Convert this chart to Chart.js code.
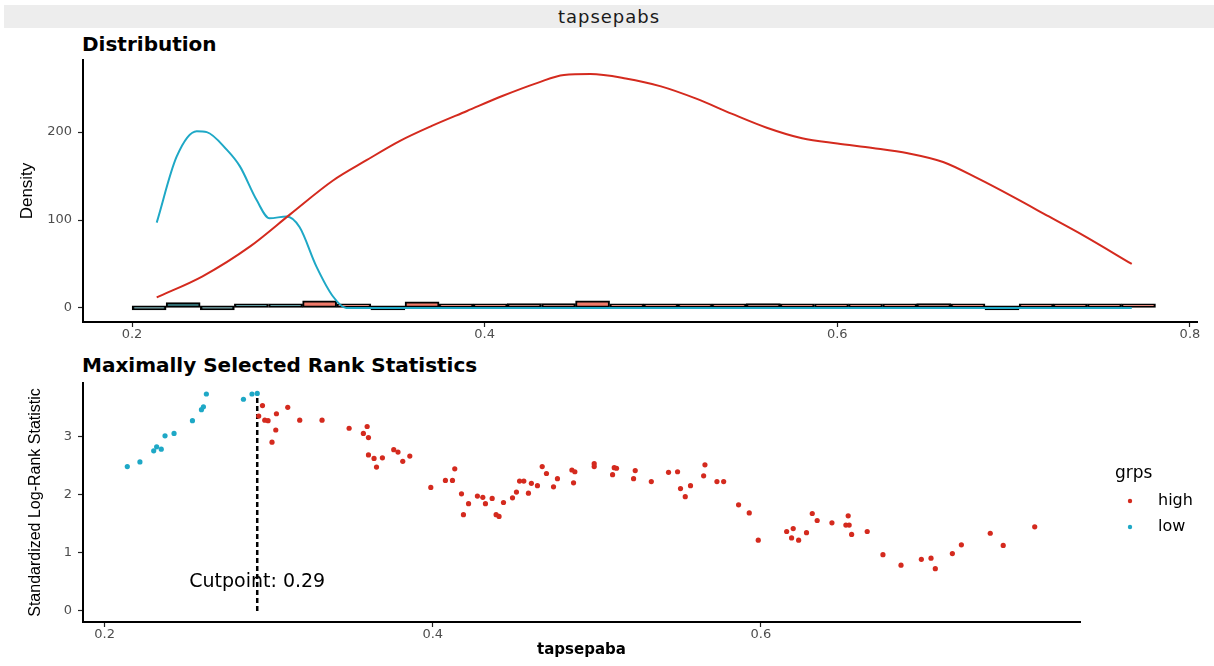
<!DOCTYPE html>
<html>
<head>
<meta charset="utf-8">
<title>tapsepabs</title>
<script src="https://cdn.jsdelivr.net/npm/chart.js@4.4.0/dist/chart.umd.min.js"></script>
<style>
  body { margin:0; background:#fff; width:1214px; height:666px; position:relative; overflow:hidden; font-family:"DejaVu Sans", sans-serif; }
  .strip { position:absolute; left:4px; right:0; top:5px; height:23px; background:#ededed; text-align:center; font-size:18px; line-height:23px; color:#1a1a1a; letter-spacing:1px; }
  .ptitle { position:absolute; left:82px; font-weight:bold; font-size:20px; line-height:23px; color:#000; }
  canvas { position:absolute; left:0; }
</style>
</head>
<body>
<div class="strip">tapsepabs</div>
<div class="ptitle" style="top:33px">Distribution</div>
<div class="ptitle" style="top:354px">Maximally Selected Rank Statistics</div>
<canvas id="distChart" width="1214" height="345" style="top:0"></canvas>
<canvas id="statChart" width="1214" height="321" style="top:345px"></canvas>
<script>
const varName = 'tapsepaba';
const groupTitle = 'grps';

// density of the "high" group
const highDensX = [0.214, 0.24, 0.267, 0.29, 0.314, 0.333, 0.352, 0.37, 0.39, 0.41, 0.43, 0.445, 0.46, 0.48, 0.50, 0.52, 0.54, 0.56, 0.58, 0.60, 0.62, 0.64, 0.66, 0.68, 0.70, 0.72, 0.74, 0.767];
const highDensY = [12, 36, 70, 107, 145, 168, 190, 207, 224, 241, 256, 265, 266, 261, 252, 238, 221, 205, 193, 187, 182, 176, 166, 147, 126, 104, 82, 50];
// density of the "low" group
const lowDensX = [0.214, 0.2253, 0.2367, 0.2424, 0.2537, 0.2612, 0.2706, 0.278, 0.2877, 0.295, 0.3046, 0.314, 0.3215, 0.34, 0.4, 0.5, 0.6, 0.7, 0.767];
const lowDensY = [97, 172, 201, 200, 180, 161, 123, 102, 104, 92, 47, 13, 0, 0, 0, 0, 0, 0, 0];

// histogram along the bottom of the density panel
const binCenters = [0.2097, 0.2290, 0.2484, 0.2677, 0.2871, 0.3064, 0.3258, 0.3451, 0.3645, 0.3838,
                    0.4032, 0.4225, 0.4419, 0.4612, 0.4806, 0.4999, 0.5193, 0.5386, 0.5580, 0.5773,
                    0.5967, 0.6160, 0.6354, 0.6547, 0.6741, 0.6934, 0.7128, 0.7321, 0.7515, 0.7708];
const binHeights = [0, 6, 0, 1, 1, 8, 0.5, 0, 7, 4,
                    0.5, 5, 5, 8, 4, 1, 3, 1, 5, 3,
                    1, 1, 1.5, 5, 1, 0, 2.5, 1, 1, 0.3];

// standardized log-rank statistics
const lowX = [0.2138, 0.2215, 0.2299, 0.2317, 0.2345, 0.2368, 0.2423, 0.2535, 0.2590, 0.2602, 0.2620, 0.2846, 0.2898, 0.2930];
const lowY = [2.49, 2.57, 2.76, 2.83, 2.79, 3.02, 3.06, 3.28, 3.47, 3.52, 3.74, 3.65, 3.74, 3.75];
const highX = [0.2939, 0.2962, 0.2976, 0.2996, 0.3020, 0.3043, 0.3047, 0.3116, 0.3189, 0.3325,
               0.3490, 0.3577, 0.3600, 0.3608, 0.3608, 0.3642, 0.3657, 0.3693, 0.3762, 0.3788,
               0.3817, 0.3860, 0.3988, 0.4077, 0.4120, 0.4134, 0.4175, 0.4187, 0.4218, 0.4272,
               0.4305, 0.4321, 0.4362, 0.4386, 0.4404, 0.4431, 0.4486, 0.4510, 0.4529, 0.4555,
               0.4583, 0.4601, 0.4638, 0.4667, 0.4693, 0.4736, 0.4760, 0.4848, 0.4858, 0.4866,
               0.4984, 0.4984, 0.5096, 0.5106, 0.5120, 0.5224, 0.5234, 0.5332, 0.5437, 0.5492,
               0.5510, 0.5539, 0.5571, 0.5651, 0.5659, 0.5732, 0.5773, 0.5864, 0.5929, 0.5984,
               0.6157, 0.6187, 0.6197, 0.6230, 0.6278, 0.6313, 0.6343, 0.6433, 0.6518, 0.6532,
               0.6538, 0.6553, 0.6648, 0.6744, 0.6854, 0.6978, 0.7037, 0.7063, 0.7167, 0.7222,
               0.7398, 0.7477, 0.7669];
const highY = [3.36, 3.54, 3.29, 3.28, 2.91, 3.12, 3.40, 3.51, 3.29, 3.29,
               3.15, 3.06, 3.18, 2.99, 2.69, 2.63, 2.48, 2.64, 2.78, 2.74,
               2.58, 2.67, 2.13, 2.25, 2.25, 2.45, 2.02, 1.66, 1.85, 1.98,
               1.96, 1.85, 1.94, 1.66, 1.63, 1.87, 1.95, 2.05, 2.24, 2.24,
               2.03, 2.20, 2.16, 2.49, 2.37, 2.14, 2.28, 2.43, 2.21, 2.40,
               2.54, 2.49, 2.35, 2.47, 2.46, 2.28, 2.42, 2.23, 2.39, 2.40,
               2.11, 1.97, 2.16, 2.33, 2.52, 2.23, 2.23, 1.83, 1.69, 1.22,
               1.37, 1.26, 1.42, 1.22, 1.35, 1.68, 1.56, 1.52, 1.48, 1.64,
               1.48, 1.32, 1.37, 0.97, 0.79, 0.89, 0.91, 0.73, 0.99, 1.14,
               1.34, 1.13, 1.45];
const cutpoint = 0.293;
const cutLabelY = 0.5;

const distTicksX = [0.2, 0.4, 0.6, 0.8];
const distTicksY = [0, 100, 200];
const statTicksX = [0.2, 0.4, 0.6];
const statTicksY = [0, 1, 2, 3];

const RED = '#d42a1e';
const CYAN = '#1ea8c6';
const HIST_HIGH = '#f07a6a';
const HIST_LOW = '#3f8f96';

const pts = (xs, ys) => xs.map((x, i) => ({x: x, y: ys[i]}));

function axis(opts) {
    return {
        type: 'linear',
        min: opts.min,
        max: opts.max,
        offset: false,
        grid: { display: true, offset: false, drawOnChartArea: false, drawTicks: true,
                tickLength: 5, tickColor: '#222', tickWidth: 1.2 },
        border: { display: true, color: '#000', width: 2 },
        ticks: { color: '#4d4d4d', font: { family: 'DejaVu Sans', size: 13 },
                 padding: opts.pad, callback: opts.fmt },
        afterBuildTicks: a => { a.ticks = opts.ticks.map(v => ({value: v})); },
        afterFit: opts.fit,
        title: opts.title || { display: false }
    };
}

// ---- Distribution panel ----
new Chart(document.getElementById('distChart').getContext('2d'), {
    type: 'bar',
    data: {
        datasets: [
            { type: 'line', label: 'high', data: pts(highDensX, highDensY), borderColor: RED,
              borderWidth: 2, pointRadius: 0, cubicInterpolationMode: 'monotone', order: 1 },
            { type: 'line', label: 'low', data: pts(lowDensX, lowDensY), borderColor: CYAN,
              borderWidth: 2, pointRadius: 0, cubicInterpolationMode: 'monotone', order: 1 },
            { type: 'bar', label: 'hist', data: pts(binCenters, binHeights),
              backgroundColor: binCenters.map(c => c <= cutpoint ? HIST_LOW : HIST_HIGH),
              borderColor: '#000', borderWidth: 2, borderSkipped: false, minBarLength: 4,
              barPercentage: 1, categoryPercentage: 1, grouped: false, order: 2 }
        ]
    },
    options: {
        responsive: false,
        animation: false,
        layout: { padding: { top: 60, right: 17, left: 0, bottom: 0 } },
        plugins: { legend: { display: false }, tooltip: { enabled: false } },
        scales: {
            x: axis({ min: 0.1722, max: 0.804, ticks: distTicksX, pad: 0,
                      fmt: v => v.toFixed(1), fit: s => { s.height = 23; } }),
            y: axis({ min: -16, max: 282, ticks: distTicksY, pad: 6,
                      fmt: v => String(v), fit: s => { s.width = 83; },
                      title: { display: true, text: 'Density', color: '#000',
                               font: { family: 'Liberation Sans', size: 17 }, padding: { top: 17 } } })
        }
    }
});

// ---- Rank statistics panel ----
const maxStat = Math.max(...lowY, ...highY);

const cutLabel = {
    id: 'cutLabel',
    beforeDatasetsDraw(chart) {
        const {ctx, scales: {x, y}} = chart;
        ctx.save();
        ctx.font = '19px "DejaVu Sans"';
        ctx.fillStyle = '#000';
        ctx.textAlign = 'center';
        ctx.textBaseline = 'middle';
        ctx.fillText('Cutpoint: ' + cutpoint.toFixed(2), x.getPixelForValue(cutpoint), y.getPixelForValue(cutLabelY));
        ctx.restore();
    }
};

const grpsLegend = {
    id: 'grpsLegend',
    afterDraw(chart) {
        const {ctx, chartArea} = chart;
        const left = chartArea.right;
        const mid = (chartArea.top + chartArea.bottom) / 2;
        ctx.save();
        ctx.fillStyle = '#000';
        ctx.textAlign = 'left';
        ctx.textBaseline = 'middle';
        ctx.font = '17px "DejaVu Sans"';
        ctx.fillText(groupTitle, left + 35, mid - 29);
        ctx.font = '16px "DejaVu Sans"';
        chart.data.datasets.filter(d => d.inLegend).forEach((d, i) => {
            const yy = mid - 1.5 + i * 26;
            ctx.fillStyle = d.backgroundColor;
            ctx.beginPath();
            ctx.arc(left + 50, yy, 2.2, 0, Math.PI * 2);
            ctx.fill();
            ctx.fillStyle = '#000';
            ctx.fillText(d.label, left + 78, yy);
        });
        ctx.restore();
    }
};

new Chart(document.getElementById('statChart').getContext('2d'), {
    type: 'scatter',
    data: {
        datasets: [
            { label: 'high', inLegend: true, data: pts(highX, highY), backgroundColor: RED,
              pointRadius: 2.6, pointBorderWidth: 0 },
            { label: 'low', inLegend: true, data: pts(lowX, lowY), backgroundColor: CYAN,
              pointRadius: 2.6, pointBorderWidth: 0 },
            { type: 'line', label: 'cut', data: [{x: cutpoint, y: 0}, {x: cutpoint, y: maxStat}],
              borderColor: '#000', borderWidth: 2.5, borderDash: [5, 3], pointRadius: 0 }
        ]
    },
    options: {
        responsive: false,
        animation: false,
        layout: { padding: { top: 38, right: 134, left: 0, bottom: 0 } },
        plugins: { legend: { display: false }, tooltip: { enabled: false } },
        scales: {
            x: axis({ min: 0.1868, max: 0.7945, ticks: statTicksX, pad: 0,
                      fmt: v => v.toFixed(1), fit: s => { s.height = 44; },
                      title: { display: true, text: varName, color: '#000',
                               font: { family: 'DejaVu Sans', size: 15, weight: 'bold' }, padding: { bottom: 7 } } }),
            y: axis({ min: -0.19, max: 3.93, ticks: statTicksY, pad: 6,
                      fmt: v => String(v), fit: s => { s.width = 83; },
                      title: { display: true, text: 'Standardized Log-Rank Statistic', color: '#000',
                               font: { family: 'Liberation Sans', size: 16 }, padding: { top: 26 } } })
        }
    },
    plugins: [cutLabel, grpsLegend]
});
</script>
</body>
</html>
